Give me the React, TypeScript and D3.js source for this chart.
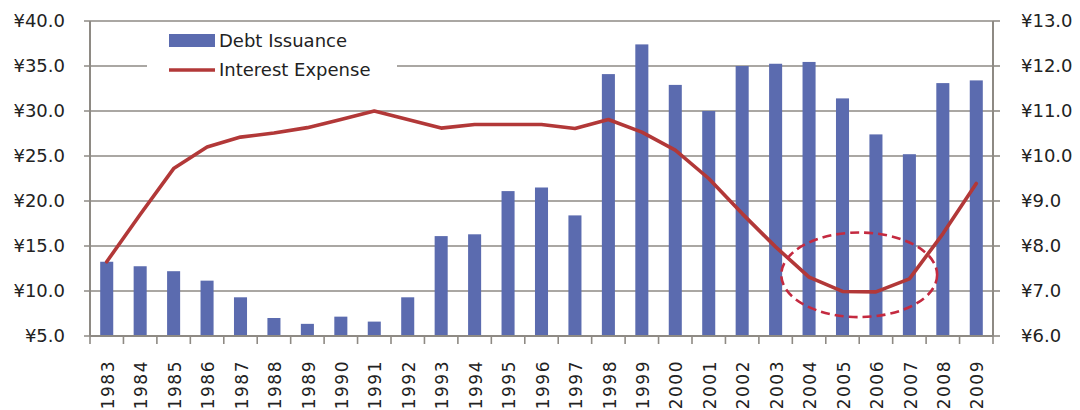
// Debt issuance (bars, left axis) vs interest expense (line, right axis), 1983–2009.
import * as d3 from "d3";

const years = [
  "1983", "1984", "1985", "1986", "1987", "1988", "1989", "1990", "1991",
  "1992", "1993", "1994", "1995", "1996", "1997", "1998", "1999", "2000",
  "2001", "2002", "2003", "2004", "2005", "2006", "2007", "2008", "2009",
];
const debtIssuance = [
  13.25, 12.75, 12.2, 11.15, 9.3, 7.0, 6.35, 7.15, 6.6,
  9.3, 16.1, 16.3, 21.1, 21.5, 18.4, 34.1, 37.4, 32.9,
  30.0, 35.0, 35.25, 35.45, 31.4, 27.4, 25.2, 33.1, 33.4,
];
const interestExpense = [
  7.65, 8.7, 9.72, 10.2, 10.42, 10.51, 10.63, 10.81, 11.0,
  10.81, 10.62, 10.7, 10.7, 10.7, 10.61, 10.81, 10.53, 10.13,
  9.5, 8.72, 7.98, 7.31, 6.99, 6.98, 7.27, 8.27, 9.39,
];
const leftTicks = [5, 10, 15, 20, 25, 30, 35, 40];
const rightTicks = [6, 7, 8, 9, 10, 11, 12, 13];

const W = 1080, H = 410;
const M = { left: 90, right: 993, top: 21, bottom: 336 };
const FONT = "'DejaVu Sans', sans-serif";
const BAR = "#5b6baf";
const LINE = "#b23838";
const GRID = "#8e8a84";

export default function App() {
  const x = d3.scaleBand<string>().domain(years).range([M.left, M.right]).paddingInner(0.61).paddingOuter(0.305);
  const xc = (y: string) => (x(y) ?? 0) + x.bandwidth() / 2;
  const yL = d3.scaleLinear().domain([5, 40]).range([M.bottom, M.top]);
  const yR = d3.scaleLinear().domain([6, 13]).range([M.bottom, M.top]);
  const step = x.step();

  const line = d3.line<number>()
    .x((_, i) => xc(years[i]))
    .y((v) => yR(v));

  // dashed highlight round the 2004–2007 trough
  const cx = (xc("2005") + xc("2006")) / 2;
  const cy = yR(7.36);
  const rx = step * 2.33;
  const ry = yR(7.36) - yR(8.3);

  return (
    <div style={{ position: "fixed", left: 0, top: 0 }}>
      <svg width={W} height={H} style={{ display: "block", background: "#fff" }}>
        {/* gridlines + left ticks */}
        {leftTicks.map((t) => (
          <line key={t} x1={M.left - 6} x2={M.right} y1={yL(t)} y2={yL(t)}
                stroke={GRID} strokeWidth={1.6} />
        ))}
        {/* right ticks */}
        {rightTicks.map((t) => (
          <line key={t} x1={M.right} x2={M.right + 7} y1={yR(t)} y2={yR(t)}
                stroke={GRID} strokeWidth={1.6} />
        ))}
        {/* bars */}
        {debtIssuance.map((v, i) => (
          <rect key={years[i]} x={x(years[i])} width={x.bandwidth()}
                y={yL(v)} height={yL(5) - yL(v)} fill={BAR} />
        ))}
        {/* axes */}
        <line x1={M.left} x2={M.left} y1={M.top} y2={M.bottom} stroke={GRID} strokeWidth={2} />
        <line x1={M.right} x2={M.right} y1={M.top} y2={M.bottom} stroke={GRID} strokeWidth={2} />
        <line x1={M.left} x2={M.right} y1={M.bottom} y2={M.bottom} stroke={GRID} strokeWidth={2} />
        {d3.range(years.length + 1).map((i) => (
          <line key={i} x1={M.left + i * step} x2={M.left + i * step} y1={M.bottom} y2={M.bottom + 8}
                stroke={GRID} strokeWidth={1.6} />
        ))}
        {/* interest line */}
        <path d={line(interestExpense) ?? ""} fill="none" stroke={LINE} strokeWidth={3.6}
              strokeLinejoin="round" strokeLinecap="round" />
        <ellipse cx={cx} cy={cy} rx={rx} ry={ry} fill="none" stroke="#c42a40"
                 strokeWidth={2.6} strokeDasharray="9 5" />
        {/* tick labels */}
        {leftTicks.map((t) => (
          <text key={t} x={65} y={yL(t)} dy="0.36em" textAnchor="end"
                fontFamily={FONT} fontSize={18} fill="#222">¥{t.toFixed(1)}</text>
        ))}
        {rightTicks.map((t) => (
          <text key={t} x={1021} y={yR(t)} dy="0.36em" textAnchor="start"
                fontFamily={FONT} fontSize={18} fill="#222">¥{t.toFixed(1)}</text>
        ))}
        {years.map((y) => (
          <text key={y} transform={`translate(${xc(y) + 1},${360}) rotate(-90)`}
                dy="0.36em" textAnchor="end" fontFamily={FONT} fontSize={17}
                letterSpacing={1.5} fill="#222">{y}</text>
        ))}
        {/* legend */}
        <rect x={147} y={27} width={250} height={54} fill="#fff" />
        <rect x={169} y={34} width={46} height={13} fill={BAR} />
        <text x={219} y={41} dy="0.36em" fontFamily={FONT} fontSize={18} fill="#222">Debt Issuance</text>
        <line x1={169} x2={215} y1={70} y2={70} stroke={LINE} strokeWidth={3.6} />
        <text x={219} y={70} dy="0.36em" fontFamily={FONT} fontSize={18} fill="#222">Interest Expense</text>
      </svg>
    </div>
  );
}
